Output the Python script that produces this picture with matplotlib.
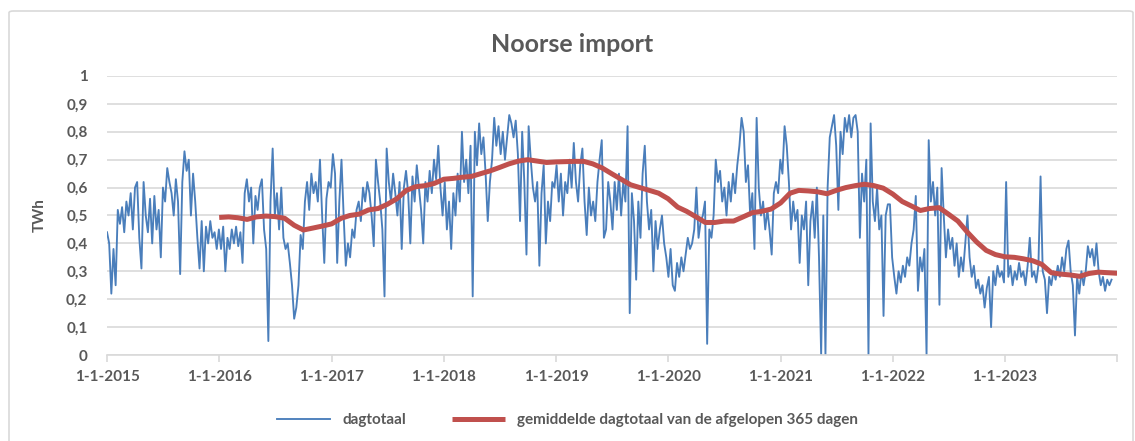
import pandas as pd
import matplotlib.pyplot as plt
from matplotlib.patches import FancyBboxPatch
from matplotlib.ticker import FuncFormatter

plt.rcParams['font.family'] = ['Lato', 'DejaVu Sans']

# weekly readings of the daily total (TWh), one list per year
y2015 = [0.44, 0.40, 0.22, 0.38, 0.25, 0.52, 0.47, 0.53, 0.44, 0.55, 0.50, 0.58, 0.45,
         0.60, 0.62, 0.42, 0.31, 0.62, 0.50, 0.44, 0.56, 0.40, 0.57, 0.45, 0.52, 0.35,
         0.60, 0.55, 0.67, 0.62, 0.58, 0.50, 0.63, 0.55, 0.29, 0.62, 0.73, 0.66, 0.70,
         0.50, 0.65, 0.55, 0.42, 0.31, 0.48, 0.30, 0.46, 0.40, 0.48, 0.42, 0.44, 0.38]
y2016 = [0.45, 0.38, 0.46, 0.30, 0.42, 0.38, 0.45, 0.40, 0.46, 0.39, 0.44, 0.33, 0.58,
         0.63, 0.55, 0.60, 0.40, 0.57, 0.52, 0.60, 0.63, 0.45, 0.38, 0.05, 0.55, 0.74,
         0.50, 0.58, 0.45, 0.60, 0.42, 0.38, 0.40, 0.33, 0.25, 0.13, 0.17, 0.25, 0.43,
         0.38, 0.55, 0.62, 0.52, 0.65, 0.58, 0.62, 0.55, 0.70, 0.50, 0.33, 0.56, 0.62]
y2017 = [0.60, 0.72, 0.65, 0.33, 0.55, 0.70, 0.50, 0.32, 0.40, 0.35, 0.45, 0.42, 0.52,
         0.55, 0.48, 0.60, 0.55, 0.62, 0.58, 0.50, 0.39, 0.70, 0.62, 0.55, 0.45, 0.21,
         0.74, 0.62, 0.55, 0.65, 0.58, 0.50, 0.62, 0.38, 0.60, 0.66, 0.58, 0.40, 0.64,
         0.55, 0.68, 0.60, 0.52, 0.40, 0.62, 0.55, 0.66, 0.58, 0.70, 0.63, 0.75, 0.60]
y2018 = [0.50, 0.62, 0.45, 0.55, 0.38, 0.58, 0.50, 0.65, 0.55, 0.80, 0.62, 0.70, 0.58,
         0.75, 0.21, 0.80, 0.68, 0.83, 0.72, 0.78, 0.65, 0.48, 0.62, 0.70, 0.85, 0.75,
         0.82, 0.72, 0.80, 0.70, 0.78, 0.86, 0.83, 0.78, 0.84, 0.72, 0.48, 0.80, 0.62,
         0.36, 0.82, 0.70, 0.60, 0.55, 0.62, 0.32, 0.58, 0.68, 0.40, 0.55, 0.48, 0.62]
y2019 = [0.60, 0.68, 0.55, 0.65, 0.50, 0.62, 0.58, 0.70, 0.60, 0.76, 0.62, 0.55, 0.68,
         0.74, 0.55, 0.43, 0.60, 0.50, 0.55, 0.48, 0.62, 0.70, 0.77, 0.42, 0.45, 0.62,
         0.55, 0.45, 0.62, 0.52, 0.65, 0.50, 0.62, 0.55, 0.82, 0.15, 0.58, 0.48, 0.27,
         0.55, 0.42, 0.65, 0.75, 0.55, 0.45, 0.52, 0.30, 0.48, 0.38, 0.45, 0.50, 0.40]
y2020 = [0.35, 0.28, 0.38, 0.25, 0.23, 0.33, 0.28, 0.35, 0.30, 0.36, 0.42, 0.38, 0.40,
         0.45, 0.60, 0.42, 0.48, 0.50, 0.55, 0.04, 0.45, 0.42, 0.50, 0.70, 0.62, 0.66,
         0.55, 0.60, 0.50, 0.62, 0.55, 0.65, 0.58, 0.68, 0.75, 0.85, 0.80, 0.62, 0.68,
         0.50, 0.58, 0.38, 0.85, 0.60, 0.50, 0.55, 0.45, 0.52, 0.45, 0.36, 0.58, 0.62]
y2021 = [0.58, 0.70, 0.65, 0.82, 0.75, 0.62, 0.45, 0.55, 0.48, 0.52, 0.33, 0.50, 0.45,
         0.55, 0.25, 0.48, 0.55, 0.42, 0.60, 0.35, 0.00, 0.50, 0.00, 0.60, 0.78, 0.82,
         0.86, 0.75, 0.52, 0.80, 0.72, 0.85, 0.80, 0.86, 0.78, 0.85, 0.86, 0.80, 0.42,
         0.65, 0.55, 0.70, 0.00, 0.83, 0.55, 0.48, 0.60, 0.45, 0.50, 0.14, 0.50, 0.54]
y2022 = [0.54, 0.35, 0.28, 0.22, 0.30, 0.26, 0.32, 0.28, 0.35, 0.32, 0.40, 0.45, 0.57,
         0.23, 0.35, 0.30, 0.38, 0.00, 0.77, 0.55, 0.62, 0.50, 0.60, 0.18, 0.67, 0.50,
         0.35, 0.45, 0.38, 0.42, 0.32, 0.40, 0.28, 0.35, 0.30, 0.40, 0.50, 0.35, 0.28,
         0.32, 0.24, 0.27, 0.22, 0.25, 0.17, 0.24, 0.28, 0.10, 0.30, 0.25, 0.32, 0.28]
y2023 = [0.30, 0.26, 0.62, 0.28, 0.32, 0.25, 0.30, 0.27, 0.33, 0.28, 0.30, 0.25, 0.32,
         0.42, 0.28, 0.30, 0.26, 0.32, 0.64, 0.30, 0.27, 0.15, 0.28, 0.25, 0.30, 0.27,
         0.32, 0.28, 0.35, 0.30, 0.38, 0.41, 0.30, 0.25, 0.07, 0.28, 0.22, 0.30, 0.25,
         0.30, 0.39, 0.35, 0.38, 0.32, 0.40, 0.30, 0.25, 0.28, 0.23, 0.27, 0.25, 0.27]

# 365-day average, read once per month (Jan 2016 .. Jan 2024)
avg365 = [0.493, 0.495, 0.492, 0.486, 0.495, 0.498, 0.496, 0.490, 0.465, 0.448, 0.455, 0.462,
          0.470, 0.490, 0.500, 0.505, 0.520, 0.525, 0.540, 0.560, 0.590, 0.603, 0.607, 0.615,
          0.630, 0.633, 0.637, 0.640, 0.650, 0.660, 0.672, 0.685, 0.695, 0.700, 0.695, 0.690,
          0.692, 0.693, 0.694, 0.694, 0.685, 0.670, 0.650, 0.630, 0.610, 0.600, 0.590, 0.580,
          0.560, 0.530, 0.515, 0.495, 0.475, 0.475, 0.480, 0.480, 0.495, 0.510, 0.515, 0.523,
          0.545, 0.580, 0.590, 0.588, 0.585, 0.578, 0.590, 0.600, 0.607, 0.612, 0.607, 0.598,
          0.577, 0.550, 0.535, 0.518, 0.525, 0.528, 0.505, 0.480, 0.440, 0.405, 0.375, 0.360,
          0.352, 0.350, 0.345, 0.338, 0.325, 0.295, 0.290, 0.287, 0.282, 0.292, 0.297, 0.295,
          0.293]

daily = y2015 + y2016 + y2017 + y2018 + y2019 + y2020 + y2021 + y2022 + y2023
daily_dates = pd.date_range('2015-01-01', periods=len(daily), freq='7D')
avg_dates = pd.date_range('2016-01-01', periods=len(avg365), freq='MS')

year_ticks = pd.date_range('2015-01-01', '2024-01-01', freq='YS')
tick_labels = [f'1-1-{d.year}' for d in year_ticks[:-1]] + ['']

grey = '#595959'
fig = plt.figure(figsize=(11.35, 4.41), dpi=100)
ax = fig.add_axes([0.0943, 0.195, 0.8899, 0.6327])

ax.plot(daily_dates, daily, color='#4A7EBB', lw=1.35, label='dagtotaal', zorder=2)
ax.plot(avg_dates, avg365, color='#C0504D', lw=3.6, solid_capstyle='butt',
        label='gemiddelde dagtotaal van de afgelopen 365 dagen', zorder=3)

ax.set_xlim(year_ticks[0], year_ticks[-1])
ax.set_ylim(0, 1)
ax.set_yticks([i / 10 for i in range(11)])
ax.yaxis.set_major_formatter(FuncFormatter(lambda v, p: ('%g' % round(v, 1)).replace('.', ',')))
ax.set_xticks(year_ticks)
ax.set_xticklabels(tick_labels)

ax.grid(axis='y', color='#d9d9d9', lw=1.2)
ax.set_axisbelow(True)
for s in ['top', 'right', 'left']:
    ax.spines[s].set_visible(False)
ax.spines['bottom'].set_color('#d9d9d9')
ax.spines['bottom'].set_linewidth(1.2)
ax.tick_params(axis='x', colors='#d9d9d9', labelcolor=grey, length=5, width=1.2,
               labelsize=11, pad=6)
ax.tick_params(axis='y', length=0, labelcolor=grey, labelsize=11, pad=14)
for lab in ax.get_xticklabels() + ax.get_yticklabels():
    lab.set_fontweight('bold')

ax.set_ylabel('TWh', color=grey, fontsize=11, fontweight='bold', labelpad=14)
fig.suptitle('Noorse import', x=0.504, y=0.925, color=grey, fontsize=18, fontweight='bold')

fig.legend(loc='lower center', bbox_to_anchor=(0.5, 0.0), ncol=2, frameon=False,
           handlelength=3.5, columnspacing=3, prop={'size': 11, 'weight': 'bold'},
           labelcolor=grey)

# chart area frame
fig.patches.append(FancyBboxPatch((9 / 1135, -0.05), 1124 / 1135, 1 - 11 / 441 + 0.05,
                                  boxstyle='round,pad=0,rounding_size=0.004',
                                  transform=fig.transFigure, fill=False,
                                  edgecolor='#d9d9d9', lw=1.2))

fig.savefig('out.png', dpi=100)
